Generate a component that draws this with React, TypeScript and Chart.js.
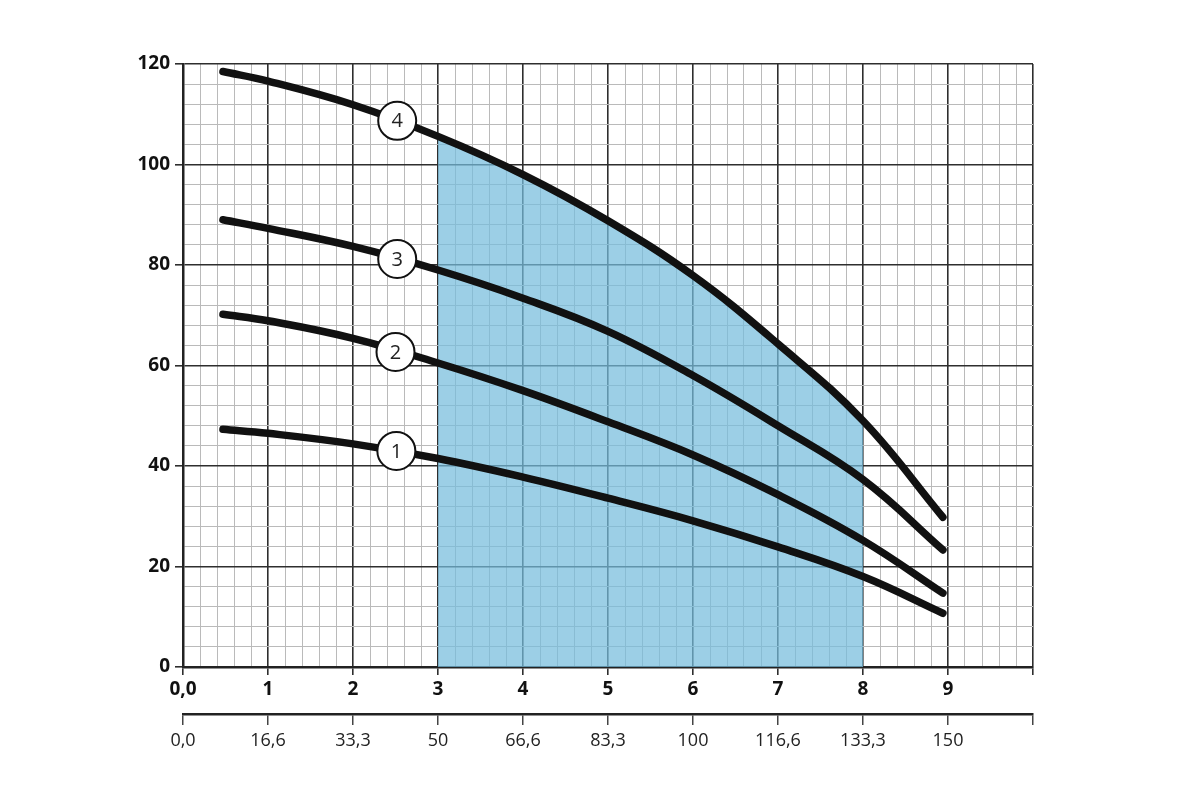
import React, { useEffect, useRef } from "react";
import { Chart, registerables } from "chart.js";

Chart.register(...registerables);

// Flow axis (upper row, m³/h) and lower row (l/min)
const flowLabels = ["0,0", "1", "2", "3", "4", "5", "6", "7", "8", "9", ""];
const flowLpmLabels = ["0,0", "16,6", "33,3", "50", "66,6", "83,3", "100", "116,6", "133,3", "150", ""];
const headLabelStep = 20;

// Pump curves (head vs flow)
const curveX = [0.47, 1, 2, 3, 4, 5, 6, 7, 8, 8.94];
const curve1 = [47.3, 46.5, 44.4, 41.5, 37.8, 33.6, 29.1, 23.9, 18.0, 10.7];
const curve2 = [70.2, 68.9, 65.4, 60.5, 55.0, 48.8, 42.2, 34.3, 25.2, 14.7];
const curve3 = [89.0, 87.3, 83.7, 79.0, 73.4, 66.8, 58.0, 48.0, 37.3, 23.3];
const curve4 = [118.5, 116.6, 111.9, 105.6, 98.0, 88.8, 77.9, 64.3, 49.0, 29.8];

// Recommended working zone (filled)
const zoneX = [3, 4, 5, 6, 7, 8];
const zoneTop = [105.6, 98.0, 88.8, 77.9, 64.3, 49.0];

// Curve number badges
const badgeX = [2.51, 2.5, 2.52, 2.52];
const badgeY = [43.0, 62.7, 81.2, 108.7];
const badgeLabels = ["1", "2", "3", "4"];

const isInt = (v: number) => Math.abs(v - Math.round(v)) < 1e-6;
const isMult = (v: number, m: number) => Math.abs(v / m - Math.round(v / m)) < 1e-6;

const toPts = (xs: number[], ys: number[]) => xs.map((x, i) => ({ x, y: ys[i] }));

const badgeTextPlugin = {
  id: "badgeText",
  afterDatasetsDraw(chart: any) {
    const ctx = chart.ctx;
    const xs = chart.scales.x;
    const ys = chart.scales.y;
    ctx.save();
    ctx.fillStyle = "#222";
    ctx.font = "20px 'Open Sans', sans-serif";
    ctx.textAlign = "center";
    ctx.textBaseline = "middle";
    badgeLabels.forEach((t, i) => {
      ctx.fillText(t, xs.getPixelForValue(badgeX[i]), ys.getPixelForValue(badgeY[i]) + 1);
    });
    ctx.restore();
  },
};

export default function App() {
  const ref = useRef<HTMLCanvasElement | null>(null);

  useEffect(() => {
    if (!ref.current) return;
    const lineDs = (data: number[]) => ({
      data: toPts(curveX, data),
      showLine: true,
      borderColor: "#111",
      borderWidth: 7.5,
      borderCapStyle: "round",
      borderJoinStyle: "round",
      pointRadius: 0,
      tension: 0.4,
      fill: false,
      order: 2,
    });
    const chart = new Chart(ref.current, {
      type: "scatter",
      data: {
        datasets: [
          {
            data: toPts(badgeX, badgeY),
            pointRadius: 19,
            pointHoverRadius: 19,
            pointBackgroundColor: "#fff",
            pointBorderColor: "#111",
            pointBorderWidth: 2,
            showLine: false,
            order: 0,
          } as any,
          lineDs(curve1),
          lineDs(curve2),
          lineDs(curve3),
          lineDs(curve4),
          {
            data: toPts(zoneX, zoneTop),
            showLine: true,
            borderWidth: 0,
            borderColor: "rgba(0,0,0,0)",
            backgroundColor: "rgba(118, 188, 220, 0.72)",
            pointRadius: 0,
            tension: 0.4,
            fill: "origin",
            order: 10,
          } as any,
        ],
      },
      options: {
        responsive: false,
        animation: false,
        events: [],
        layout: { padding: { left: 0, top: 64, right: 167, bottom: 0 } },
        plugins: { legend: { display: false }, tooltip: { enabled: false } },
        scales: {
          x: {
            type: "linear",
            position: "bottom",
            weight: 0,
            min: 0,
            max: 10,
            ticks: {
              stepSize: 0.2,
              autoSkip: false,
              maxRotation: 0,
              padding: 3,
              color: "#111",
              font: { size: 19, weight: "bold", family: "'Open Sans', sans-serif" },
              callback: (v: any) => (isInt(Number(v)) ? flowLabels[Math.round(Number(v))] : ""),
            },
            grid: {
              color: (c: any) => (isInt(c.tick.value) ? "#2e2e2e" : "#bababa"),
              lineWidth: (c: any) => (isInt(c.tick.value) ? 1.6 : 1),
              tickColor: (c: any) => (isInt(c.tick.value) ? "#2e2e2e" : "rgba(0,0,0,0)"),
              tickLength: 8,
            },
            border: { color: "#222", width: 2.5 },
            afterFit: (s: any) => {
              s.height = 47;
            },
          },
          x2: {
            type: "linear",
            position: "bottom",
            weight: 1,
            min: 0,
            max: 10,
            ticks: {
              stepSize: 1,
              autoSkip: false,
              maxRotation: 0,
              padding: 5,
              color: "#222",
              font: { size: 18, family: "'Open Sans', sans-serif" },
              callback: (v: any) => flowLpmLabels[Math.round(Number(v))] ?? "",
            },
            grid: {
              drawOnChartArea: false,
              color: "#444",
              lineWidth: 1.5,
              tickLength: 11,
            },
            border: { color: "#222", width: 2.5 },
            afterFit: (s: any) => {
              s.height = 86;
            },
          },
          y: {
            type: "linear",
            position: "left",
            min: 0,
            max: 120,
            ticks: {
              stepSize: 4,
              autoSkip: false,
              padding: 5,
              color: "#111",
              font: { size: 19, weight: "bold", family: "'Open Sans', sans-serif" },
              callback: (v: any) => (isMult(Number(v), headLabelStep) ? String(Math.round(Number(v))) : ""),
            },
            grid: {
              color: (c: any) => (isMult(c.tick.value, headLabelStep) ? "#2e2e2e" : "#bababa"),
              lineWidth: (c: any) => (isMult(c.tick.value, headLabelStep) ? 1.6 : 1),
              tickColor: (c: any) => (isMult(c.tick.value, headLabelStep) ? "#2e2e2e" : "rgba(0,0,0,0)"),
              tickLength: 8,
            },
            border: { color: "#222", width: 2.5 },
            afterFit: (s: any) => {
              s.width = 183;
            },
          },
        },
      } as any,
      plugins: [badgeTextPlugin],
    });
    return () => chart.destroy();
  }, []);

  return (
    <div style={{ position: "absolute", left: 0, top: 0, width: 1200, height: 800, background: "#fff" }}>
      <canvas ref={ref} width={1200} height={800} />
    </div>
  );
}
